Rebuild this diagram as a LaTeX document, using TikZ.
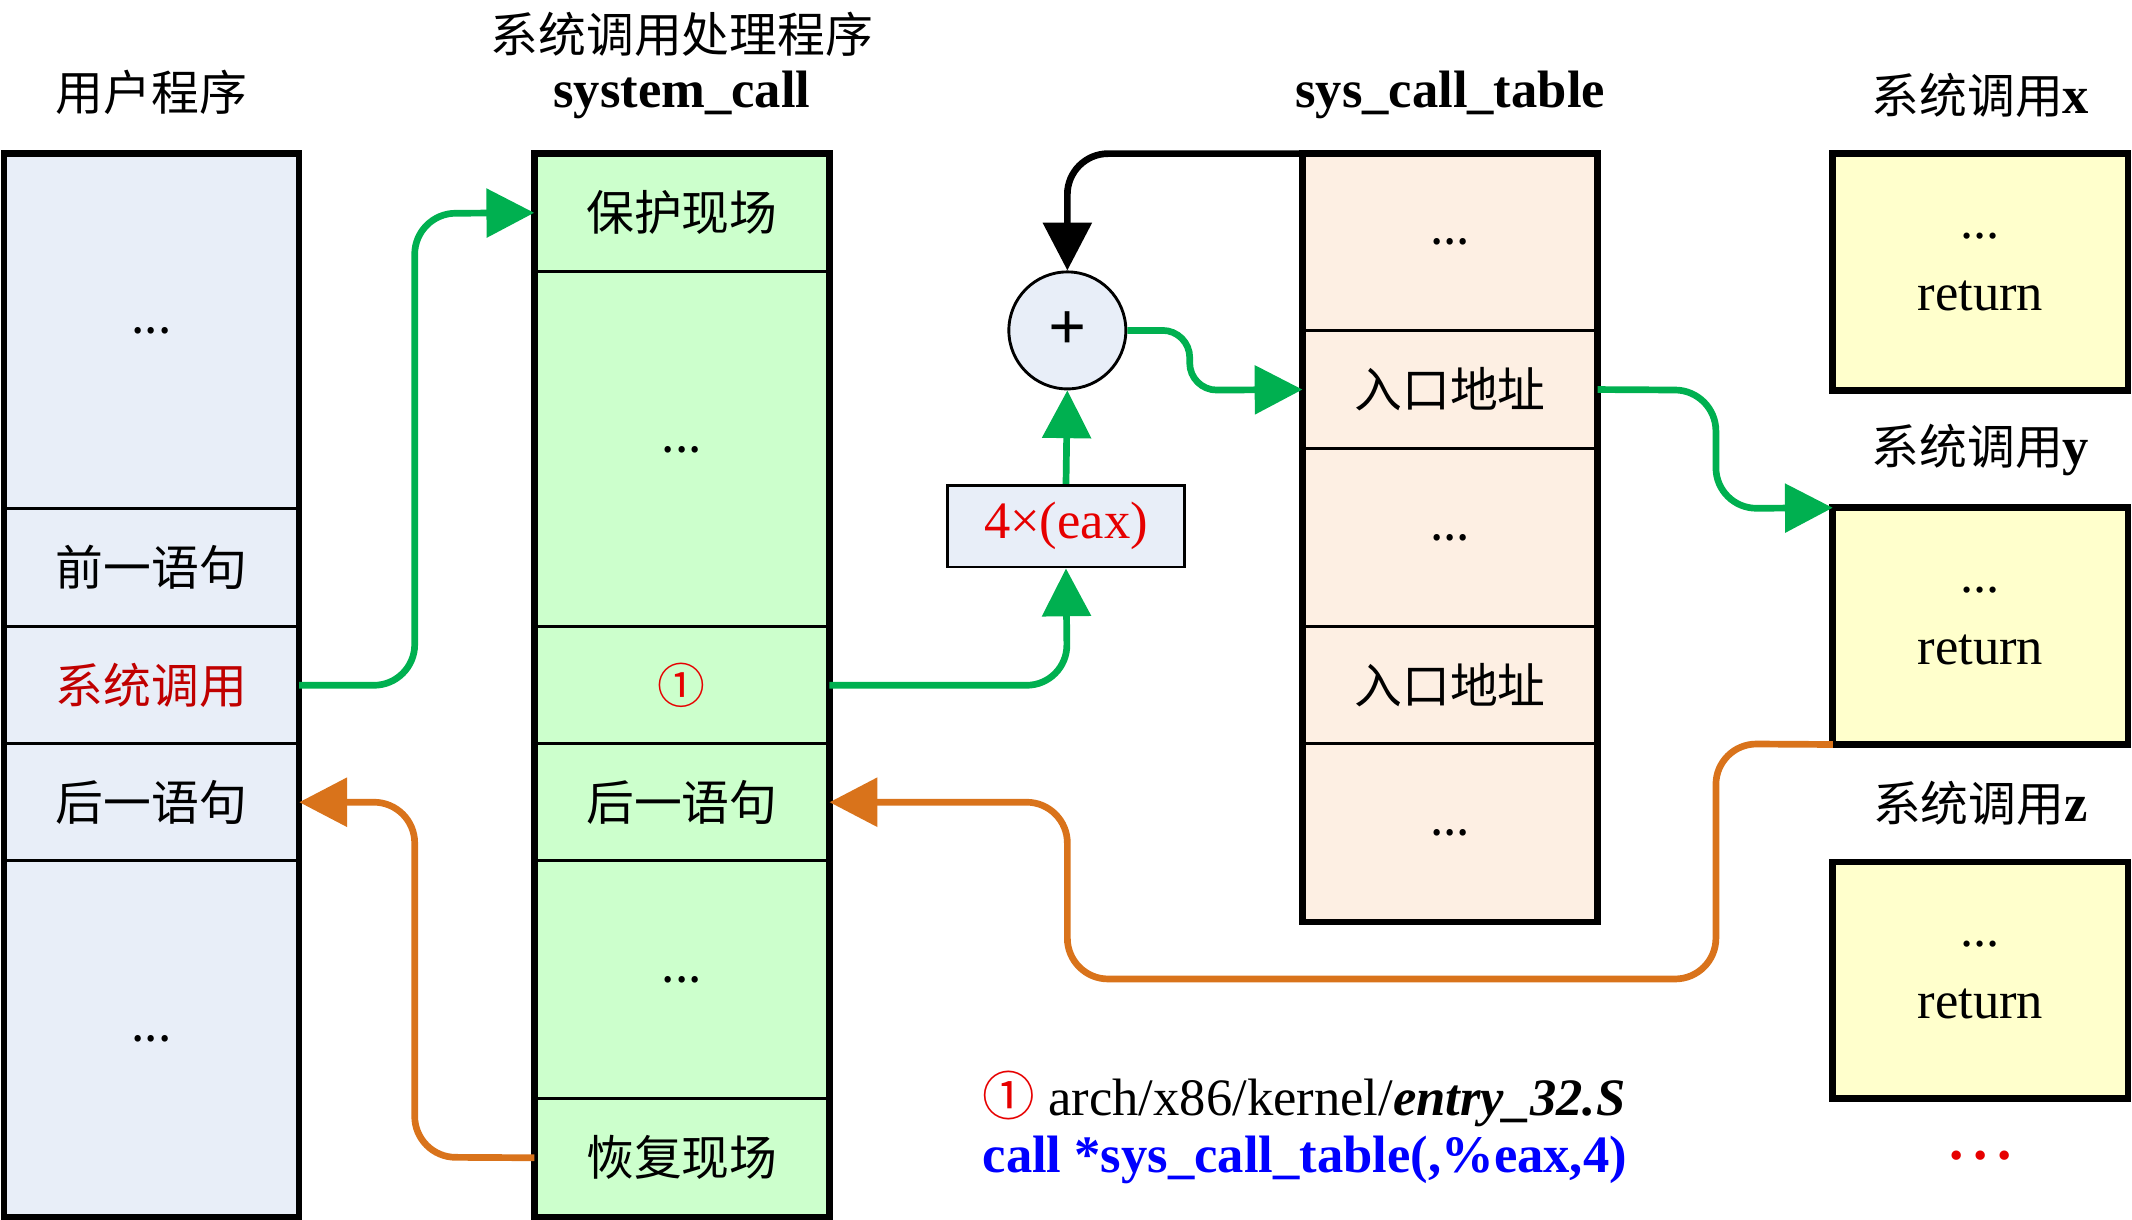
\documentclass[tikz,border=0pt]{standalone}
\usepackage{fontspec}
\setmainfont{Liberation Serif}
\newfontfamily\cjk{Noto Sans CJK SC}
\usetikzlibrary{arrows.meta}
\definecolor{ublue}{RGB}{232, 238, 248}
\definecolor{sgreen}{RGB}{204, 255, 204}
\definecolor{tpeach}{RGB}{253, 239, 227}
\definecolor{fyellow}{RGB}{255, 255, 204}
\definecolor{lgreen}{RGB}{0, 176, 80}
\definecolor{lorange}{RGB}{217, 115, 27}
\definecolor{tred}{RGB}{230, 0, 0}
\definecolor{dred}{RGB}{192, 0, 0}
\begin{document}
\begin{tikzpicture}[x=0.01cm, y=-0.01cm, font=\fontsize{10}{11}\selectfont\cjk,
  cell/.style={draw=black, line width=0.6pt, minimum width=2.17cm, inner sep=0pt, outer sep=0pt},
  frame/.style={draw=black, line width=1.4pt},
  title/.style={inner sep=1pt},
  link/.style={line width=1.4pt, rounded corners=0.3cm, -{Triangle[length=10pt, width=10pt]}}]
\useasboundingbox (0,0) rectangle (1568,897);
% user program
\node (u1) [cell, fill=ublue, minimum height=2.61cm] at (111.5,243.5) {...};
\node (u2) [cell, fill=ublue, minimum height=0.87cm] at (111.5,417.5) {前一语句};
\node (u3) [cell, fill=ublue, minimum height=0.86cm, text=dred] at (111.5,504) {系统调用};
\node (u4) [cell, fill=ublue, minimum height=0.86cm] at (111.5,590) {后一语句};
\node (u5) [cell, fill=ublue, minimum height=2.62cm] at (111.5,764) {...};
\draw [frame] (3,113) rectangle (220,895);
\node [title] at (111.5,68) {用户程序};
% system_call
\node (s1) [cell, fill=sgreen, minimum height=0.87cm] at (501.5,156.5) {保护现场};
\node (s2) [cell, fill=sgreen, minimum height=2.61cm] at (501.5,330.5) {...};
\node (s3) [cell, fill=sgreen, minimum height=0.86cm, text=tred] at (501.5,504) {①};
\node (s4) [cell, fill=sgreen, minimum height=0.86cm] at (501.5,590) {后一语句};
\node (s5) [cell, fill=sgreen, minimum height=1.75cm] at (501.5,720.5) {...};
\node (s6) [cell, fill=sgreen, minimum height=0.87cm] at (501.5,851.5) {恢复现场};
\draw [frame] (393,113) rectangle (610,895);
\node [title] at (501.5,25) {系统调用处理程序};
\node [title, font=\fontsize{11}{12}\selectfont\bfseries] at (501.5,70) {system\_call};
% sys_call_table
\node (t1) [cell, fill=tpeach, minimum height=1.30cm] at (1066.5,178) {...};
\node (t2) [cell, fill=tpeach, minimum height=0.87cm] at (1066.5,286.5) {入口地址};
\node (t3) [cell, fill=tpeach, minimum height=1.31cm] at (1066.5,395.5) {...};
\node (t4) [cell, fill=tpeach, minimum height=0.86cm] at (1066.5,504) {入口地址};
\node (t5) [cell, fill=tpeach, minimum height=1.31cm] at (1066.5,612.5) {...};
\draw [frame] (958,113) rectangle (1175,678);
\node [title, font=\fontsize{11}{12}\selectfont\bfseries] at (1066.5,70) {sys\_call\_table};
% system call bodies
\foreach \n/\y/\c in {x/200/113, y/460.5/374, z/721/634} {
  \node (f\n) [cell, frame, fill=fyellow, minimum height=1.74cm, align=center,
    font=\fontsize{11}{13}\selectfont] at (1456.5,\y) {...\\[2pt]return};
  \node [title] at (1456.5,\c-43) {系统调用{\rmfamily\fontsize{11}{12}\selectfont\bfseries\n}};
}
\node (more) [text=tred, font=\fontsize{12}{12}\selectfont\bfseries] at (1456.5,850) {.\,.\,.};
% adder
\node (add) [circle, draw=black, line width=0.6pt, fill=ublue, minimum size=0.86cm,
  inner sep=0pt, font=\fontsize{14}{14}\selectfont\bfseries] at (785,243) {+};
\node (off) [draw=black, line width=0.6pt, fill=ublue, minimum width=1.74cm, minimum height=0.6cm,
  text=tred, font=\fontsize{11}{12}\selectfont] at (784,387) {4×(eax)};
% note
\node (n1) [anchor=west, inner sep=0pt, font=\fontsize{11}{12}\selectfont] at (722,808)
  {{\cjk\color{tred}①} arch/x86/kernel/\textbf{\textit{entry\_32.S}}};
\node (n2) [anchor=west, inner sep=0pt, text=blue, font=\fontsize{11}{12}\selectfont\bfseries] at (722,853)
  {call *sys\_call\_table(,\%eax,4)};
% connectors
\draw [link, lgreen] (u3.east) -- (305,504) -- (305,157) -- (s1.west);
\draw [link, lgreen] (s3.east) -- (785,504) -- (off.south);
\draw [link, lgreen, rounded corners=0pt] (off.north) -- (add.south);
\draw [link, black] (958,113) -- (785,113) -- (add.north);
\draw [link, lgreen, rounded corners=0.2cm] (add.east) -- (875,243) -- (875,287) -- (t2.west);
\draw [link, lgreen] (t2.east) -- (1262,287) -- (1262,374) -- (fy.north west);
\draw [link, lorange] (fy.south west) -- (1262,547) -- (1262,720) -- (785,720) -- (785,590) -- (s4.east);
\draw [link, lorange] (s6.west) -- (305,851) -- (305,590) -- (u4.east);
\end{tikzpicture}
\end{document}
